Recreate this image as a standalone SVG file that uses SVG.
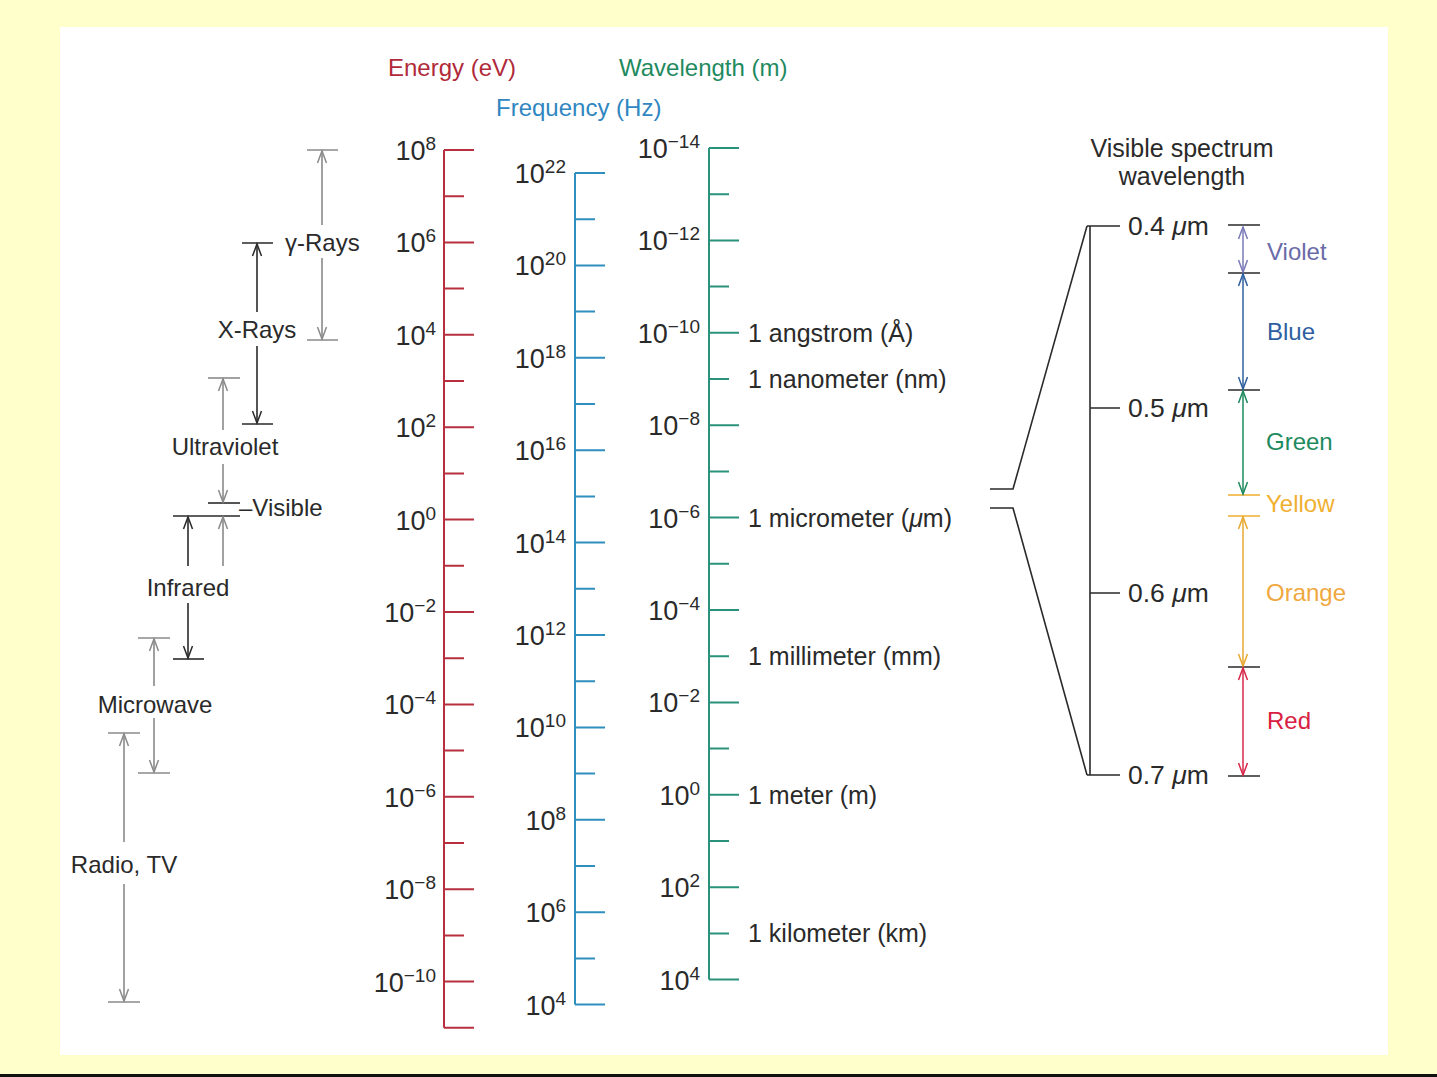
<svg xmlns="http://www.w3.org/2000/svg" width="1437" height="1077" viewBox="0 0 1437 1077">
<style>
text{font-family:"Liberation Sans",Arial,sans-serif;fill:#2a2a2a}
.lb{font-size:24px}
.un{font-size:25px}
.sc{font-size:27px}
.sp{font-size:19px}
.ti{font-size:24px}
.dk{stroke:#2a2a2a;stroke-width:1.6;fill:none}
.gy{stroke:#8a8a8a;stroke-width:1.6;fill:none}
.ad{marker-end:url(#mdk)}
.ag{marker-end:url(#mgy)}
.en{stroke:#b8303f;stroke-width:2;fill:none}
.fr{stroke:#2f8fbf;stroke-width:2;fill:none}
.wl{stroke:#2a927a;stroke-width:2;fill:none}
</style>
<defs>
<marker id="mdk" markerUnits="userSpaceOnUse" markerWidth="14" markerHeight="12" refX="12" refY="6" orient="auto" overflow="visible"><path d="M0,1.5 L12,6 L0,10.5" fill="none" stroke="#2a2a2a" stroke-width="1.5"/></marker>
<marker id="mgy" markerUnits="userSpaceOnUse" markerWidth="14" markerHeight="12" refX="12" refY="6" orient="auto" overflow="visible"><path d="M0,1.5 L12,6 L0,10.5" fill="none" stroke="#8a8a8a" stroke-width="1.5"/></marker>
<marker id="mvi" markerUnits="userSpaceOnUse" markerWidth="14" markerHeight="12" refX="12" refY="6" orient="auto-start-reverse" overflow="visible"><path d="M0,1.5 L12,6 L0,10.5" fill="none" stroke="#7a7ab8" stroke-width="1.5"/></marker>
<marker id="mbl" markerUnits="userSpaceOnUse" markerWidth="14" markerHeight="12" refX="12" refY="6" orient="auto-start-reverse" overflow="visible"><path d="M0,1.5 L12,6 L0,10.5" fill="none" stroke="#2f5f9f" stroke-width="1.5"/></marker>
<marker id="mgr" markerUnits="userSpaceOnUse" markerWidth="14" markerHeight="12" refX="12" refY="6" orient="auto-start-reverse" overflow="visible"><path d="M0,1.5 L12,6 L0,10.5" fill="none" stroke="#1e8a5e" stroke-width="1.5"/></marker>
<marker id="mor" markerUnits="userSpaceOnUse" markerWidth="14" markerHeight="12" refX="12" refY="6" orient="auto-start-reverse" overflow="visible"><path d="M0,1.5 L12,6 L0,10.5" fill="none" stroke="#e8a830" stroke-width="1.5"/></marker>
<marker id="mrd" markerUnits="userSpaceOnUse" markerWidth="14" markerHeight="12" refX="12" refY="6" orient="auto-start-reverse" overflow="visible"><path d="M0,1.5 L12,6 L0,10.5" fill="none" stroke="#d8284a" stroke-width="1.5"/></marker>
</defs>

<rect x="0" y="0" width="1437" height="1077" fill="#ffffcc"/>
<rect x="60" y="27" width="1328" height="1028" fill="#ffffff"/>
<rect x="0" y="1074" width="1437" height="3" fill="#111111"/>

<g id="titles">
<text class="ti" x="388" y="76" style="fill:#b02a3a">Energy (eV)</text>
<text class="ti" x="496" y="116" style="fill:#2f86c0">Frequency (Hz)</text>
<text class="ti" x="619" y="76" style="fill:#1f8a60">Wavelength (m)</text>
</g>

<g id="bands">
<g id="gamma">
<path class="gy" d="M307,150H338 M307,340H338"/>
<line class="gy ag" x1="322" y1="225" x2="322" y2="151"/>
<line class="gy ag" x1="322" y1="258" x2="322" y2="339"/>
<text class="lb" x="285" y="251">γ-Rays</text>
</g>
<g id="xrays">
<path class="dk" d="M242,243H273 M242,424H273"/>
<line class="dk ad" x1="257" y1="312" x2="257" y2="244"/>
<line class="dk ad" x1="257" y1="346" x2="257" y2="423"/>
<text class="lb" x="257" y="338" text-anchor="middle">X-Rays</text>
</g>
<g id="ultraviolet">
<path class="gy" d="M208,378H240"/>
<path class="dk" d="M208,503H240"/>
<line class="gy ag" x1="223" y1="430" x2="223" y2="379"/>
<line class="gy ag" x1="223" y1="464" x2="223" y2="502"/>
<text class="lb" x="225" y="455" text-anchor="middle">Ultraviolet</text>
</g>
<g id="visible">
<path class="dk" d="M173,516H240"/>
<line class="gy ag" x1="223" y1="566" x2="223" y2="517"/>
<text class="lb" x="239" y="516">–Visible</text>
</g>
<g id="infrared">
<path class="dk" d="M173,659H204"/>
<line class="dk ad" x1="188" y1="566" x2="188" y2="517"/>
<line class="dk ad" x1="188" y1="603" x2="188" y2="658"/>
<text class="lb" x="188" y="596" text-anchor="middle">Infrared</text>
</g>
<g id="microwave">
<path class="gy" d="M138,638H170 M138,773H170"/>
<line class="gy ag" x1="154" y1="686" x2="154" y2="639"/>
<line class="gy ag" x1="154" y1="718" x2="154" y2="772"/>
<text class="lb" x="155" y="713" text-anchor="middle">Microwave</text>
</g>
<g id="radio">
<path class="gy" d="M108,733H140 M108,1002H140"/>
<line class="gy ag" x1="124" y1="842" x2="124" y2="734"/>
<line class="gy ag" x1="124" y1="884" x2="124" y2="1001"/>
<text class="lb" x="124" y="873" text-anchor="middle">Radio, TV</text>
</g>
</g>

<g id="energy-scale">
<path class="en" d="M444,150V1027.8 M444,150H474 M444,196.2H464 M444,242.4H474 M444,288.6H464 M444,334.8H474 M444,381H464 M444,427.2H474 M444,473.4H464 M444,519.6H474 M444,565.8H464 M444,612H474 M444,658.2H464 M444,704.4H474 M444,750.6H464 M444,796.8H474 M444,843H464 M444,889.2H474 M444,935.4H464 M444,981.6H474 M444,1027.8H474"/>
<g text-anchor="end">
<text class="sc" x="436" y="160">10<tspan class="sp" dy="-10">8</tspan></text>
<text class="sc" x="436" y="252.4">10<tspan class="sp" dy="-10">6</tspan></text>
<text class="sc" x="436" y="344.8">10<tspan class="sp" dy="-10">4</tspan></text>
<text class="sc" x="436" y="437.2">10<tspan class="sp" dy="-10">2</tspan></text>
<text class="sc" x="436" y="529.6">10<tspan class="sp" dy="-10">0</tspan></text>
<text class="sc" x="436" y="622">10<tspan class="sp" dy="-10">−2</tspan></text>
<text class="sc" x="436" y="714.4">10<tspan class="sp" dy="-10">−4</tspan></text>
<text class="sc" x="436" y="806.8">10<tspan class="sp" dy="-10">−6</tspan></text>
<text class="sc" x="436" y="899.2">10<tspan class="sp" dy="-10">−8</tspan></text>
<text class="sc" x="436" y="991.6">10<tspan class="sp" dy="-10">−10</tspan></text>
</g>
</g>

<g id="frequency-scale">
<path class="fr" d="M575,173V1004.6 M575,173H605 M575,219.2H595 M575,265.4H605 M575,311.6H595 M575,357.8H605 M575,404H595 M575,450.2H605 M575,496.4H595 M575,542.6H605 M575,588.8H595 M575,635H605 M575,681.2H595 M575,727.4H605 M575,773.6H595 M575,819.8H605 M575,866H595 M575,912.2H605 M575,958.4H595 M575,1004.6H605"/>
<g text-anchor="end">
<text class="sc" x="566" y="183">10<tspan class="sp" dy="-10">22</tspan></text>
<text class="sc" x="566" y="275.4">10<tspan class="sp" dy="-10">20</tspan></text>
<text class="sc" x="566" y="367.8">10<tspan class="sp" dy="-10">18</tspan></text>
<text class="sc" x="566" y="460.2">10<tspan class="sp" dy="-10">16</tspan></text>
<text class="sc" x="566" y="552.6">10<tspan class="sp" dy="-10">14</tspan></text>
<text class="sc" x="566" y="645">10<tspan class="sp" dy="-10">12</tspan></text>
<text class="sc" x="566" y="737.4">10<tspan class="sp" dy="-10">10</tspan></text>
<text class="sc" x="566" y="829.8">10<tspan class="sp" dy="-10">8</tspan></text>
<text class="sc" x="566" y="922.2">10<tspan class="sp" dy="-10">6</tspan></text>
<text class="sc" x="566" y="1014.6">10<tspan class="sp" dy="-10">4</tspan></text>
</g>
</g>

<g id="wavelength-scale">
<path class="wl" d="M709,148V979.6 M709,148H739 M709,194.2H729 M709,240.4H739 M709,286.6H729 M709,332.8H739 M709,379H729 M709,425.2H739 M709,471.4H729 M709,517.6H739 M709,563.8H729 M709,610H739 M709,656.2H729 M709,702.4H739 M709,748.6H729 M709,794.8H739 M709,841H729 M709,887.2H739 M709,933.4H729 M709,979.6H739"/>
<g text-anchor="end">
<text class="sc" x="700" y="158">10<tspan class="sp" dy="-10">−14</tspan></text>
<text class="sc" x="700" y="250.4">10<tspan class="sp" dy="-10">−12</tspan></text>
<text class="sc" x="700" y="342.8">10<tspan class="sp" dy="-10">−10</tspan></text>
<text class="sc" x="700" y="435.2">10<tspan class="sp" dy="-10">−8</tspan></text>
<text class="sc" x="700" y="527.6">10<tspan class="sp" dy="-10">−6</tspan></text>
<text class="sc" x="700" y="620">10<tspan class="sp" dy="-10">−4</tspan></text>
<text class="sc" x="700" y="712.4">10<tspan class="sp" dy="-10">−2</tspan></text>
<text class="sc" x="700" y="804.8">10<tspan class="sp" dy="-10">0</tspan></text>
<text class="sc" x="700" y="897.2">10<tspan class="sp" dy="-10">2</tspan></text>
<text class="sc" x="700" y="989.6">10<tspan class="sp" dy="-10">4</tspan></text>
</g>
<g class="units">
<text class="un" x="748" y="342">1 angstrom (Å)</text>
<text class="un" x="748" y="388">1 nanometer (nm)</text>
<text class="un" x="748" y="527">1 micrometer (<tspan font-style="italic">μ</tspan>m)</text>
<text class="un" x="748" y="665">1 millimeter (mm)</text>
<text class="un" x="748" y="804">1 meter (m)</text>
<text class="un" x="748" y="942">1 kilometer (km)</text>
</g>
</g>

<g id="connectors">
<path class="dk" d="M990,489H1013L1087,226 M990,508H1013L1087,775"/>
</g>

<g id="visible-spectrum">
<text x="1182" y="157" text-anchor="middle" style="font-size:25px">Visible spectrum</text>
<text x="1182" y="185" text-anchor="middle" style="font-size:25px">wavelength</text>
<path class="dk" d="M1087,226H1120 M1090,226V775 M1087,775H1120 M1090,408H1120 M1090,593H1120"/>
<text x="1128" y="235" style="font-size:26.5px">0.4 <tspan font-style="italic">μ</tspan>m</text>
<text x="1128" y="417" style="font-size:26.5px">0.5 <tspan font-style="italic">μ</tspan>m</text>
<text x="1128" y="602" style="font-size:26.5px">0.6 <tspan font-style="italic">μ</tspan>m</text>
<text x="1128" y="784" style="font-size:26.5px">0.7 <tspan font-style="italic">μ</tspan>m</text>
</g>

<g id="colour-bands">
<path class="dk" d="M1228,225H1260 M1228,273H1260 M1228,390H1260 M1228,667H1260 M1228,776H1260"/>
<path d="M1228,495H1260 M1228,516H1260" stroke="#f0b030" stroke-width="1.6" fill="none"/>
<line x1="1243" y1="227" x2="1243" y2="272" stroke="#7a7ab8" stroke-width="1.5" marker-start="url(#mvi)" marker-end="url(#mvi)"/>
<line x1="1243" y1="274" x2="1243" y2="389" stroke="#2f5f9f" stroke-width="1.5" marker-start="url(#mbl)" marker-end="url(#mbl)"/>
<line x1="1243" y1="391" x2="1243" y2="494" stroke="#1e8a5e" stroke-width="1.5" marker-start="url(#mgr)" marker-end="url(#mgr)"/>
<line x1="1243" y1="517" x2="1243" y2="666" stroke="#e8a830" stroke-width="1.5" marker-start="url(#mor)" marker-end="url(#mor)"/>
<line x1="1243" y1="668" x2="1243" y2="775" stroke="#d8284a" stroke-width="1.5" marker-start="url(#mrd)" marker-end="url(#mrd)"/>
<text class="lb" x="1267" y="260" style="fill:#6a6aa8">Violet</text>
<text class="lb" x="1267" y="340" style="fill:#2f5f9f">Blue</text>
<text class="lb" x="1266" y="450" style="fill:#1e8a5e">Green</text>
<text class="lb" x="1266" y="512" style="fill:#f0b030">Yellow</text>
<text class="lb" x="1266" y="601" style="fill:#f0a840">Orange</text>
<text class="lb" x="1267" y="729" style="fill:#d82040">Red</text>
</g>
</svg>
